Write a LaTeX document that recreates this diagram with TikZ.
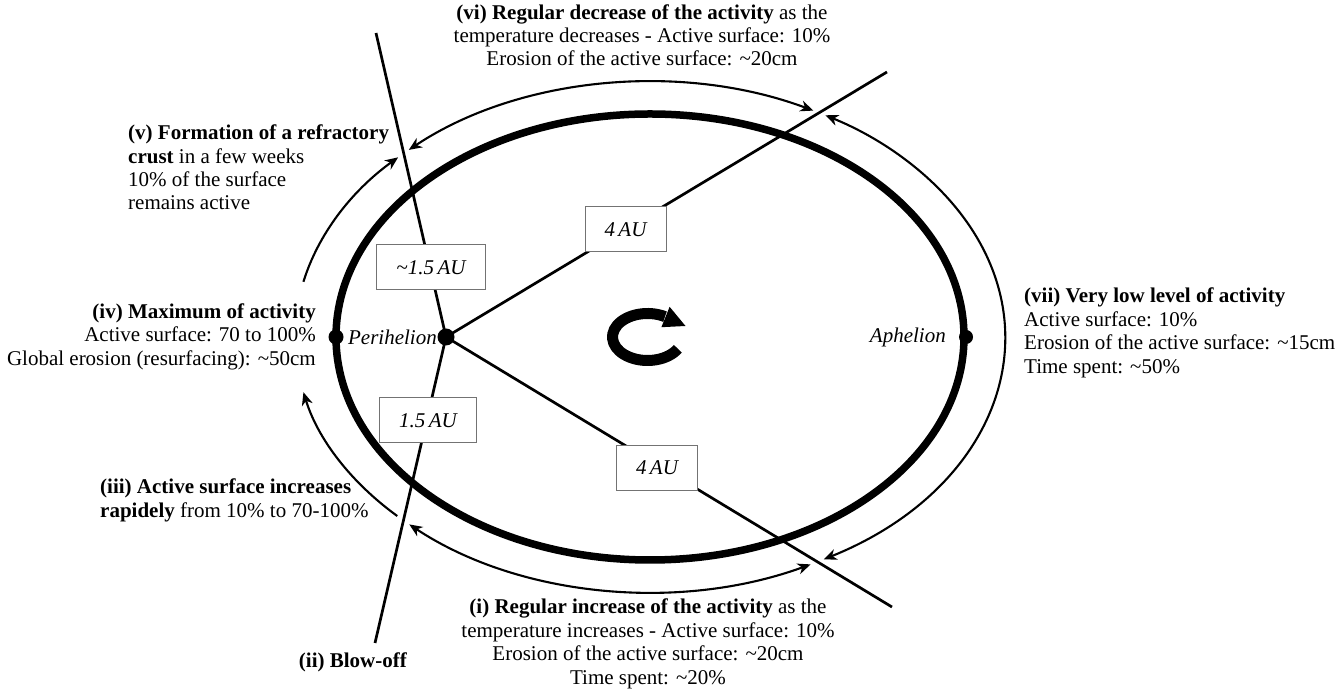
\documentclass[tikz,border=0pt]{standalone}
\usepackage{fontspec}
\setmainfont{Liberation Serif}
\usetikzlibrary{arrows.meta,calc}
\begin{document}
\begin{tikzpicture}[x=1pt,y=1pt,
  >={Stealth[length=13pt,width=11pt,inset=4pt]},
  lsp/.style={font=\fontsize{21}{#1}\selectfont},
  txt/.style={inner sep=0pt},
  aubox/.style={draw=black!55, line width=1pt, fill=white,
    font=\fontsize{21}{25}\selectfont\itshape, inner xsep=19.5pt, inner ysep=0pt, minimum height=45pt},
  ray/.style={line width=2.7pt},
  orbit/.style={line width=7.5pt},
  trackarc/.style={line width=2.1pt},
  dot/.style={circle, fill=black, inner sep=0pt, minimum size=#1},
  lbl/.style={inner sep=0pt, font=\fontsize{21}{25}\selectfont\itshape}
]
\useasboundingbox (0,0) rectangle (1343,695);
\coordinate (C) at (650,358);

% main orbit
\draw[orbit] (C) ellipse [x radius=314, y radius=223];

% outer activity arcs (rx=355, ry=255)
\draw[trackarc,<->] ($(C)+(62.6:355 and 255)$) arc[start angle=62.6, end angle=132.8, x radius=355, y radius=255];
\draw[trackarc,->] ($(C)+(167.5:355 and 255)$) arc[start angle=167.5, end angle=135.2, x radius=355, y radius=255];
\draw[trackarc,->] ($(C)+(224.6:355 and 255)$) arc[start angle=224.6, end angle=192.5, x radius=355, y radius=255];
\draw[trackarc,<->] ($(C)+(227.3:355 and 255)$) arc[start angle=227.3, end angle=296.9, x radius=355, y radius=255];
\draw[trackarc,<->] ($(C)+(299.3:355 and 255)$) arc[start angle=299.3, end angle=420.4, x radius=355, y radius=255];

% perihelion and rays
\coordinate (topEnd) at (376,662);
\coordinate (botEnd) at (375,52);
\coordinate (urEnd) at (887,623);
\coordinate (lrEnd) at (892,88);
\coordinate (Pc) at (446,358);
\draw[ray] (Pc) -- (topEnd);
\draw[ray] (Pc) -- (botEnd);
\draw[ray] (Pc) -- (urEnd);
\draw[ray] (Pc) -- (lrEnd);
\node[dot=17pt] (P) at (Pc) {};
\node[dot=15pt] (L) at (336,358) {};
\node[dot=14pt] (A) at (966,358) {};

% distance boxes
\node[aubox] (b1) at (431,427.5) {\textasciitilde1.5\,AU};
\node[aubox] (b2) at (428,274.5) {1.5\,AU};
\node[aubox] (b3) at (625.5,465.5) {4\,AU};
\node[aubox] (b4) at (657,227) {4\,AU};

\node[lbl, anchor=east] (peri) at (437,358) {Perihelion};
\node[lbl, anchor=east] (aph) at (946,358) {Aphelion};

% rotation symbol
\draw[line width=11pt]
  ($(647.5,358)+(-30:35 and 23.5)$) arc[start angle=-30, end angle=-300, x radius=35, y radius=23.5];
\fill (669.6,388.2) -- (685.5,369.0) -- (661.4,367.8) -- cycle;

% texts
\node[txt, lsp=23, anchor=north, align=center] (vi) at (642,690)
  {\textbf{(vi) Regular decrease of the activity} as the\\
   temperature decreases - Active surface: 10\%\\
   Erosion of the active surface: \textasciitilde20cm};
\node[txt, lsp=23.3, anchor=north west, align=left] (v) at (128,570)
  {\textbf{(v) Formation of a refractory}\\
   \textbf{crust} in a few weeks\\
   10\% of the surface\\
   remains active};
\node[txt, lsp=23.3, anchor=north east, align=right] (iv) at (316,391.3)
  {\textbf{(iv) Maximum of activity}\\
   Active surface: 70 to 100\%\\
   Global erosion (resurfacing): \textasciitilde50cm};
\node[txt, lsp=23.3, anchor=north west, align=left] (iii) at (100,216)
  {\textbf{(iii) Active surface increases}\\
   \textbf{rapidely} from 10\% to 70-100\%};
\node[txt, lsp=23.3, anchor=north] (ii) at (353,42) {\textbf{(ii) Blow-off}};
\node[txt, lsp=23.5, anchor=north, align=center] (i) at (648,96)
  {\textbf{(i) Regular increase of the activity} as the\\
   temperature increases - Active surface: 10\%\\
   Erosion of the active surface: \textasciitilde20cm\\
   Time spent: \textasciitilde20\%};
\node[txt, lsp=23.5, anchor=north west, align=left] (vii) at (1024,407)
  {\textbf{(vii) Very low level of activity}\\
   Active surface: 10\%\\
   Erosion of the active surface: \textasciitilde15cm\\
   Time spent: \textasciitilde50\%};
\end{tikzpicture}
\end{document}
